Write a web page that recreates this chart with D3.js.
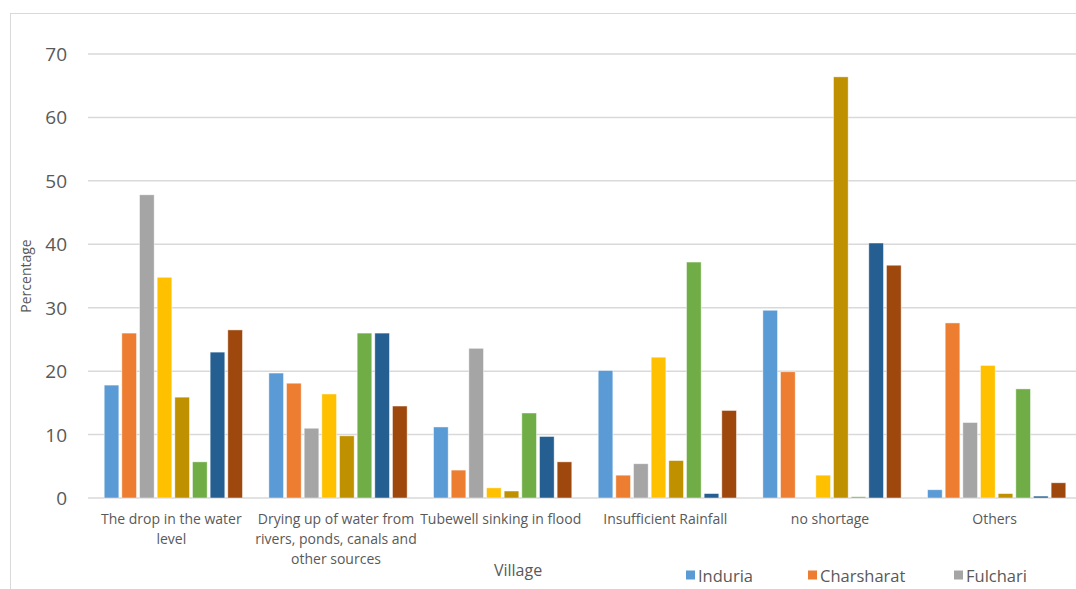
<!DOCTYPE html>
<html lang="en">
<head>
<meta charset="utf-8">
<title>Reasons for water shortage by village</title>
<style>
body { margin: 0; background: #fff; }
* { font-family: "Open Sans", "Liberation Sans", sans-serif; }
</style>
<script src="https://cdnjs.cloudflare.com/ajax/libs/d3/7.8.5/d3.min.js"></script>
</head>
<body>
<script>
// categories (label lines as they wrap in the picture)
var categories = [
	["The drop in the water", "level"],
	["Drying up of water from", "rivers, ponds, canals and", "other sources"],
	["Tubewell sinking in flood"],
	["Insufficient Rainfall"],
	["no shortage"],
	["Others"]
];
// series names; only the first three are visible in the legend
var seriesNames = ["Induria", "Charsharat", "Fulchari", "S4", "S5", "S6", "S7", "S8"];
var seriesColors = ["#5B9BD5", "#ED7D31", "#A5A5A5", "#FFC000", "#BF9000", "#70AD47", "#255E91", "#9E480E"];
// values per series, one per category
var induria    = [17.8, 19.7, 11.2, 20.1, 29.6, 1.3];
var charsharat = [26.0, 18.1, 4.4, 3.6, 19.9, 27.6];
var fulchari   = [47.8, 11.0, 23.6, 5.4, 0, 11.9];
var s4         = [34.8, 16.4, 1.6, 22.2, 3.6, 20.9];
var s5         = [15.9, 9.8, 1.1, 5.9, 66.4, 0.7];
var s6         = [5.7, 26.0, 13.4, 37.2, 0.2, 17.2];
var s7         = [23.0, 26.0, 9.7, 0.7, 40.2, 0.3];
var s8         = [26.5, 14.5, 5.7, 13.8, 36.7, 2.4];
var yTicks = [0, 10, 20, 30, 40, 50, 60, 70];
var legendShown = 3;

var seriesValues = [induria, charsharat, fulchari, s4, s5, s6, s7, s8];

var width = 1076, height = 589;
var svg = d3.select("body").append("svg")
	.attr("width", width)
	.attr("height", height);

// chart area border
svg.append("rect")
	.attr("x", 10.5).attr("y", 13.5)
	.attr("width", 1100).attr("height", 600)
	.style("fill", "none")
	.style("stroke", "#d9d9d9")
	.style("stroke-width", "1px");

var plotLeft = 91, plotRight = 1079, plotTop = 54, plotBottom = 498;

var x0 = d3.scaleBand()
	.domain(d3.range(categories.length))
	.range([plotLeft, plotRight])
	.paddingInner(0).paddingOuter(0);

var x1 = d3.scaleBand()
	.domain(d3.range(seriesNames.length))
	.range([13.2, x0.bandwidth() - 13.2])
	.paddingInner(0.17);

var y = d3.scaleLinear()
	.domain([0, 70])
	.range([plotBottom, plotTop]);

// gridlines
svg.append("g")
	.selectAll("line")
	.data(yTicks)
	.enter()
	.append("line")
		.attr("x1", 88).attr("x2", width)
		.attr("y1", function(d) { return y(d); })
		.attr("y2", function(d) { return y(d); })
		.style("stroke", "#d9d9d9")
		.style("stroke-width", "1.5px");

// y tick labels
svg.append("g")
	.selectAll("text")
	.data(yTicks)
	.enter()
	.append("text")
		.attr("x", 67)
		.attr("y", function(d) { return y(d) + 7; })
		.attr("text-anchor", "end")
		.style("font-size", "19px")
		.style("fill", "#595959")
		.text(function(d) { return d; });

// bars
var groups = svg.append("g")
	.selectAll("g")
	.data(categories)
	.enter()
	.append("g")
		.attr("transform", function(d, i) { return "translate(" + x0(i) + ",0)"; });

groups.selectAll("rect")
	.data(function(d, ci) { return seriesValues.map(function(vals, si) { return { s: si, v: vals[ci] }; }); })
	.enter()
	.append("rect")
		.attr("x", function(d) { return x1(d.s); })
		.attr("width", x1.bandwidth())
		.attr("y", function(d) { return y(d.v); })
		.attr("height", function(d) { return plotBottom - y(d.v); })
		.style("fill", function(d) { return seriesColors[d.s]; })
		.style("stroke", "#fff")
		.style("stroke-opacity", 0.6)
		.style("stroke-width", "0.75px");

// category labels
groups.append("text")
	.attr("text-anchor", "middle")
	.style("font-size", "14px")
	.style("fill", "#595959")
	.selectAll("tspan")
	.data(function(d) { return d; })
	.enter()
	.append("tspan")
		.attr("x", x0.bandwidth() / 2 - 2)
		.attr("y", function(d, i) { return 524 + i * 20; })
		.text(function(d) { return d; });

// axis titles
svg.append("text")
	.attr("transform", "translate(31,276) rotate(-90)")
	.attr("text-anchor", "middle")
	.style("font-size", "14px")
	.style("fill", "#595959")
	.text("Percentage");

svg.append("text")
	.attr("x", 518).attr("y", 576)
	.attr("text-anchor", "middle")
	.style("font-size", "16px")
	.style("fill", "#595959")
	.text("Village");

// legend
var legendX = [686, 808, 954];
var legend = svg.append("g")
	.selectAll("g")
	.data(seriesNames.slice(0, legendShown))
	.enter()
	.append("g")
		.attr("transform", function(d, i) { return "translate(" + legendX[i] + ",571)"; });
legend.append("rect")
	.attr("width", 9).attr("height", 9)
	.attr("y", -0.5)
	.style("fill", function(d, i) { return seriesColors[i]; });
legend.append("text")
	.attr("x", 12).attr("y", 11)
	.style("font-size", "16.5px")
	.style("fill", "#595959")
	.text(function(d) { return d; });
</script>
</body>
</html>
